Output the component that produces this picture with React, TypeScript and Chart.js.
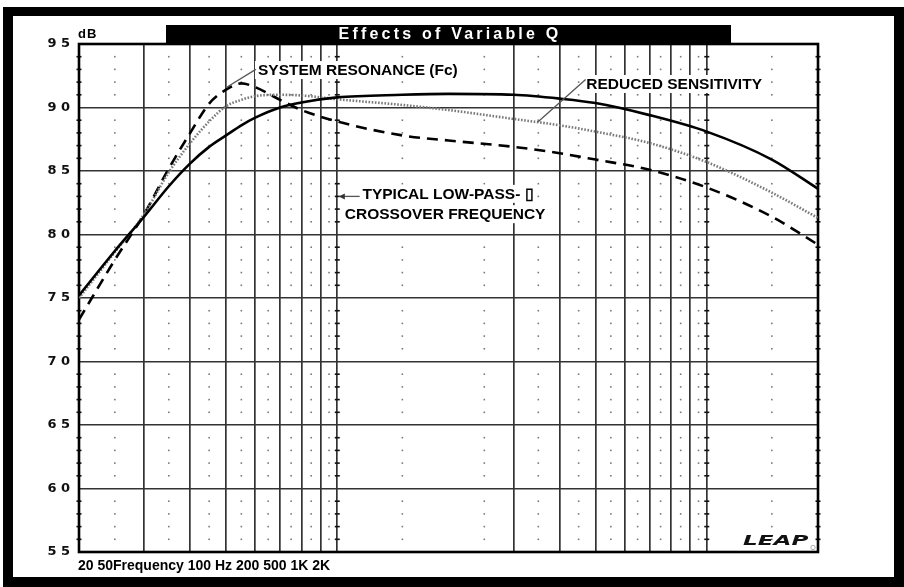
import React, { useEffect, useRef } from 'react';
import { Chart, registerables } from 'chart.js';

Chart.register(...registerables);

// ---------- data ----------
const freqs = [20, 25, 30, 35, 40, 45, 50, 55, 60, 70, 80, 100, 150, 200, 300, 400, 500, 700, 1000, 1500, 2000];
const solidQ = [75.2, 78.7, 81.4, 83.8, 85.6, 86.9, 87.8, 88.6, 89.2, 90.0, 90.4, 90.8, 91.0, 91.07, 91.0, 90.7, 90.35, 89.4, 88.1, 85.9, 83.6];
const dottedQ = [75.0, 78.6, 81.6, 84.9, 87.2, 88.9, 90.1, 90.6, 90.9, 91.0, 90.95, 90.65, 90.2, 89.8, 89.1, 88.6, 88.1, 87.2, 85.7, 83.3, 81.3];
const dashedQ = [73.3, 78.0, 81.6, 85.2, 88.0, 90.3, 91.4, 91.9, 91.6, 90.6, 89.8, 88.9, 87.8, 87.4, 86.9, 86.4, 85.9, 85.1, 83.7, 81.4, 79.2];

const yMin = 55;
const yMax = 95;
const yStep = 5;
const xMin = 20;
const xMax = 2000;
const xGridFreqs = [30, 40, 50, 60, 70, 80, 90, 100, 300, 400, 500, 600, 700, 800, 900, 1000];
const xMinorFreqs = [25, 35, 45, 55, 65, 75, 85, 95, 150, 250, 350, 450, 550, 650, 750, 850, 950, 1500];
const xTickMarkFreqs = [20, 100, 1000, 2000];

const titleText = 'Effects of Variable Q';
const unitText = 'dB';
const xAxisText = '20 50Frequency 100 Hz 200 500 1K 2K';
const logoText = 'LEAP';

const labelResonance = 'SYSTEM RESONANCE (Fc)';
const labelSensitivity = 'REDUCED SENSITIVITY';
const labelCrossover1 = 'TYPICAL LOW-PASS- \u25AF';
const labelCrossover2 = 'CROSSOVER FREQUENCY';

// annotation anchors in data units [freq, dB]
const resText = [61, 92.95];
const resLeader = [[60.2, 93.0], [50.2, 91.6]];
const sensText = [472, 91.85];
const sensLeader = [[470, 92.2], [349, 88.86]];
const xoverText1 = [117, 83.2];
const xoverText2 = [104.8, 81.6];
const xoverArrow = [[115, 83.0], [101.6, 83.0]];

const SANS = '"Liberation Sans", Arial, Helvetica, sans-serif';
const ANN_FONT = `bold 15.5px ${SANS}`;

const toXY = (vals: number[]) => freqs.map((f, i) => ({ x: f, y: vals[i] }));

const textBoxes = (chart: any) => {
  const { x, y } = chart.scales;
  return [
    { t: labelResonance, p: resText },
    { t: labelSensitivity, p: sensText },
    { t: labelCrossover1, p: xoverText1 },
    { t: labelCrossover2, p: xoverText2 },
  ].map((b) => ({ t: b.t, px: x.getPixelForValue(b.p[0]), py: y.getPixelForValue(b.p[1]) }));
};

const decor = {
  id: 'decor',
  beforeDraw(chart: any) {
    const { ctx, width, height } = chart;
    ctx.save();
    ctx.fillStyle = '#fff';
    ctx.fillRect(0, 0, width, height);
    ctx.fillStyle = '#000';
    ctx.fillRect(3, 7, width - 3, height - 7);
    ctx.fillStyle = '#fff';
    ctx.fillRect(13, 16, width - 23, height - 26);
    ctx.restore();
  },
  beforeDatasetsDraw(chart: any) {
    const { ctx, chartArea: a, scales } = chart;
    const { x, y } = scales;
    ctx.save();
    for (let db = yMin + 1; db < yMax; db++) {
      if (db % yStep === 0) continue;
      const py = y.getPixelForValue(db);
      ctx.fillStyle = '#7a7a7a';
      for (const f of xMinorFreqs) {
        const px = x.getPixelForValue(f);
        ctx.fillRect(px - 0.8, py - 0.8, 1.6, 1.6);
      }
      ctx.fillStyle = '#111';
      for (const f of xTickMarkFreqs) {
        const px = x.getPixelForValue(f);
        ctx.fillRect(px - 2.5, py - 0.8, 5, 1.6);
      }
    }
    ctx.strokeStyle = '#000';
    ctx.lineWidth = 2.6;
    ctx.strokeRect(a.left, a.top, a.right - a.left, a.bottom - a.top);

    // white backgrounds behind annotation text
    ctx.font = ANN_FONT;
    ctx.fillStyle = '#fff';
    for (const b of textBoxes(chart)) {
      const w = ctx.measureText(b.t).width;
      ctx.fillRect(b.px - 3, b.py - 9, w + 6, 18);
    }
    ctx.restore();
  },
  afterDatasetsDraw(chart: any) {
    const { ctx, chartArea: a, scales } = chart;
    const { x, y } = scales;
    ctx.save();
    // leader lines
    ctx.strokeStyle = '#555';
    ctx.lineWidth = 1.3;
    for (const seg of [resLeader, sensLeader, xoverArrow]) {
      ctx.beginPath();
      ctx.moveTo(x.getPixelForValue(seg[0][0]), y.getPixelForValue(seg[0][1]));
      ctx.lineTo(x.getPixelForValue(seg[1][0]), y.getPixelForValue(seg[1][1]));
      ctx.stroke();
    }
    // arrow head
    const ax = x.getPixelForValue(xoverArrow[1][0]);
    const ay = y.getPixelForValue(xoverArrow[1][1]);
    ctx.fillStyle = '#333';
    ctx.beginPath();
    ctx.moveTo(ax - 1, ay);
    ctx.lineTo(ax + 5, ay - 3);
    ctx.lineTo(ax + 5, ay + 3);
    ctx.closePath();
    ctx.fill();

    // annotation text
    ctx.font = ANN_FONT;
    ctx.fillStyle = '#000';
    ctx.textAlign = 'left';
    ctx.textBaseline = 'middle';
    for (const b of textBoxes(chart)) {
      ctx.fillText(b.t, b.px, b.py + 0.5);
    }

    // title bar
    ctx.fillStyle = '#000';
    ctx.fillRect(166, 25, 565, 19.5);
    ctx.fillStyle = '#fff';
    ctx.font = `bold 16px ${SANS}`;
    (ctx as any).letterSpacing = '3.2px';
    ctx.textAlign = 'center';
    ctx.fillText(titleText, 450, 35);
    (ctx as any).letterSpacing = '0px';

    // unit
    ctx.fillStyle = '#000';
    ctx.textAlign = 'left';
    ctx.font = `bold 13px ${SANS}`;
    (ctx as any).letterSpacing = '1px';
    ctx.fillText(unitText, a.left - 1, 34);
    (ctx as any).letterSpacing = '0px';

    // x axis caption
    ctx.font = `bold 14px ${SANS}`;
    ctx.fillText(xAxisText, 78, 566);

    // logo
    ctx.save();
    ctx.translate(743, 541);
    ctx.scale(1.65, 1);
    ctx.font = `italic bold 14px "DejaVu Sans", sans-serif`;
    ctx.fillStyle = '#111';
    ctx.textBaseline = 'middle';
    ctx.fillText(logoText, 0, 0);
    ctx.restore();
    ctx.strokeStyle = '#999';
    ctx.lineWidth = 0.8;
    ctx.beginPath();
    ctx.arc(813, 547.5, 2.2, 0, Math.PI * 2);
    ctx.stroke();
    ctx.restore();
  },
};

export default function App() {
  const ref = useRef<HTMLCanvasElement | null>(null);
  useEffect(() => {
    if (!ref.current) return;
    const chart = new Chart(ref.current, {
      type: 'line',
      data: {
        datasets: [
          {
            label: 'Solid',
            data: toXY(solidQ),
            borderColor: '#000',
            borderWidth: 2.6,
            cubicInterpolationMode: 'monotone',
            pointRadius: 0,
            fill: false,
          },
          {
            label: 'Dotted',
            data: toXY(dottedQ),
            borderColor: '#7a7a7a',
            borderWidth: 2.6,
            borderDash: [1.6, 1.6],
            cubicInterpolationMode: 'monotone',
            pointRadius: 0,
            fill: false,
          },
          {
            label: 'Dashed',
            data: toXY(dashedQ),
            borderColor: '#000',
            borderWidth: 2.6,
            borderDash: [11, 7],
            cubicInterpolationMode: 'monotone',
            pointRadius: 0,
            fill: false,
          },
        ],
      },
      options: {
        responsive: false,
        animation: false,
        events: [],
        layout: { padding: { left: 0, top: 44, right: 86, bottom: 35 } },
        plugins: { legend: { display: false }, tooltip: { enabled: false }, title: { display: false } },
        scales: {
          x: {
            type: 'logarithmic',
            min: xMin,
            max: xMax,
            border: { display: false },
            grid: { color: '#333', lineWidth: 1.7, drawTicks: false },
            ticks: { display: false },
            afterBuildTicks: (s: any) => {
              s.ticks = xGridFreqs.map((v) => ({ value: v }));
            },
            afterFit: (s: any) => {
              s.height = 0;
            },
          },
          y: {
            type: 'linear',
            min: yMin,
            max: yMax,
            border: { display: false },
            grid: { color: '#333', lineWidth: 1.6, drawTicks: false },
            ticks: {
              stepSize: yStep,
              padding: 9,
              color: '#111',
              font: { family: '"DejaVu Sans", sans-serif', weight: 'bold', size: 13 },
              callback: (v: any) => String(v).split('').join(' '),
            },
            afterFit: (s: any) => {
              s.width = 79;
            },
          },
        },
      },
      plugins: [decor],
    } as any);
    return () => chart.destroy();
  }, []);
  return (
    <div style={{ position: 'fixed', left: 0, top: 0, width: 904, height: 587 }}>
      <canvas ref={ref} width={904} height={587} style={{ width: 904, height: 587, display: 'block' }} />
    </div>
  );
}
